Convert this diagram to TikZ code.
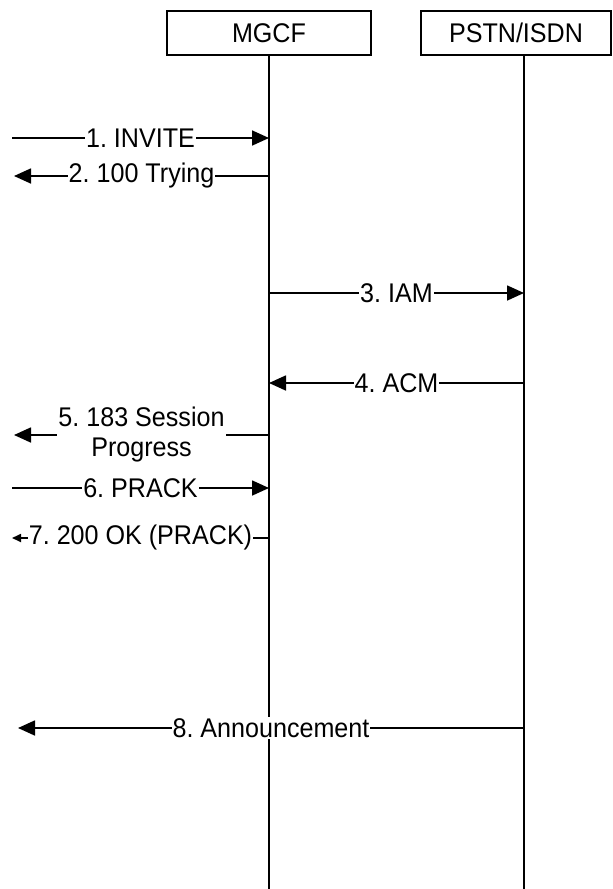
\documentclass[tikz,border=0pt]{standalone}
\usepackage{fontspec}
\setmainfont[FakeStretch = 0.93]{Liberation Sans}
\usetikzlibrary{arrows.meta}

\tikzset{
	entity/.style = {draw = black, line width = 1.7pt, minimum height = 44pt,
					 inner sep = 0pt, font = \fontsize{27}{30}\selectfont},
	life/.style = {line width = 1.7pt},
	msg/.style = {line width = 1.7pt, -{Triangle[length = 17pt, width = 15pt]}},
	lbl/.style = {fill = white, inner sep = 1pt, align = center,
				  font = \fontsize{27}{30}\selectfont}
}

\begin{document}
\frenchspacing
\begin{tikzpicture}[x = 1pt, y = -1pt]
	\useasboundingbox (0,0) rectangle (613,889);

	\draw (269,33) node[entity, minimum width = 204pt](MGCF) {MGCF};
	\draw (516,33) node[entity, minimum width = 190pt](PSTN) {PSTN/ISDN};

	\coordinate (pstntop) at (524,55);
	\coordinate (mgcfend) at (269,889);
	\coordinate (pstnend) at (524,889);

	\draw[life] (MGCF.south) -- (mgcfend);
	\draw[life] (pstntop) -- (pstnend);

	\coordinate (m1) at (12,138);   \coordinate (g1) at (269,138);
	\coordinate (m2) at (14,176);   \coordinate (g2) at (269,176);
	\coordinate (g3) at (269,293);  \coordinate (p3) at (524,293);
	\coordinate (g4) at (269,383);  \coordinate (p4) at (524,383);
	\coordinate (m5) at (14,435);   \coordinate (g5) at (269,435);
	\coordinate (m6) at (12,488);   \coordinate (g6) at (269,488);
	\coordinate (m7) at (12,538);   \coordinate (g7) at (269,538);
	\coordinate (m8) at (18,728);   \coordinate (p8) at (524,728);

	\draw[msg] (m1) -- node[lbl](INVITE) {1. INVITE} (g1);
	\draw[msg] (g2) -- node[lbl](TRYING) {2. 100 Trying} (m2);
	\draw[msg] (g3) -- node[lbl](IAM) {3. IAM} (p3);
	\draw[msg] (p4) -- node[lbl](ACM) {4. ACM} (g4);
	\draw[msg] (g5) -- node[lbl](SESSION) {5. 183 Session\\Progress} (m5);
	\draw[msg] (m6) -- node[lbl](PRACK) {6. PRACK} (g6);
	\draw[line width = 1.7pt, -{Triangle[length = 9pt, width = 8pt]}] (g7) -- node[lbl](OK) {7. 200 OK (PRACK)} (m7);
	\draw[msg] (p8) -- node[lbl](ANN) {8. Announcement} (m8);
\end{tikzpicture}
\end{document}
